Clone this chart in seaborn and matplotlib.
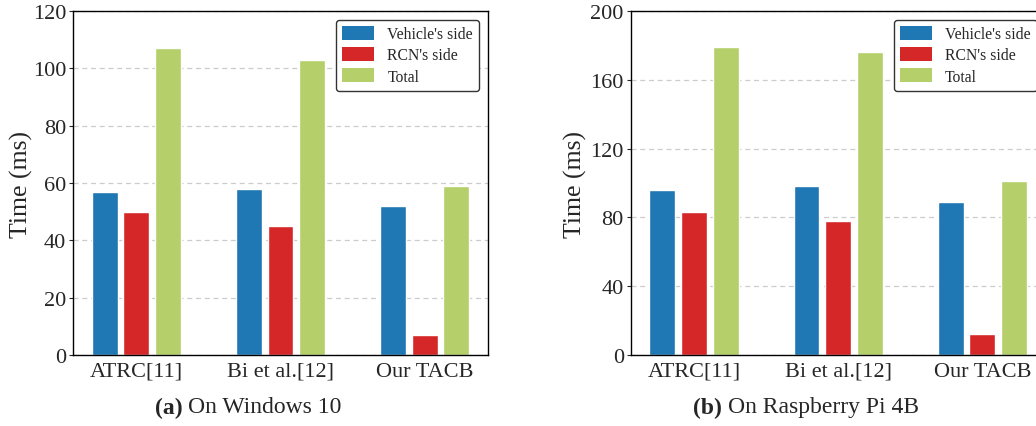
import matplotlib
matplotlib.use("Agg")
import matplotlib.pyplot as plt
import seaborn as sns
import pandas as pd

methods = ["ATRC[11]", "Bi et al.[12]", "Our TACB"]
series = ["Vehicle's side", "RCN's side", "Total"]
colors = ["#1f77b4", "#d62728", "#b5cf6b"]

win_vehicle = [57, 58, 52]
win_rcn = [50, 45, 7]
win_total = [107, 103, 59]

pi_vehicle = [96, 98, 89]
pi_rcn = [83, 78, 12]
pi_total = [179, 176, 101]

win_ticks = [0, 20, 40, 60, 80, 100, 120]
pi_ticks = [0, 40, 80, 120, 160, 200]

sns.set_style("white")
plt.rcParams['font.family'] = ['Liberation Serif', 'DejaVu Serif']


def long_df(v, r, t):
    rows = []
    for vals, s in zip([v, r, t], series):
        for m, val in zip(methods, vals):
            rows.append({"method": m, "series": s, "value": val})
    return pd.DataFrame(rows)


fig = plt.figure(figsize=(10.36, 4.27), dpi=100)
W, H = 1036, 427
ax1 = fig.add_axes([73 / W, (H - 356) / H, 415 / W, 344 / H])
ax2 = fig.add_axes([630.7 / W, (H - 356) / H, 415 / W, 344 / H])

for ax, (v, r, t), ticks in [(ax1, (win_vehicle, win_rcn, win_total), win_ticks),
                             (ax2, (pi_vehicle, pi_rcn, pi_total), pi_ticks)]:
    df = long_df(v, r, t)
    sns.barplot(data=df, x="method", y="value", hue="series", order=methods,
                hue_order=series, palette=colors, saturation=1, width=0.66,
                gap=0.18, ax=ax, errorbar=None)
    ax.set_xlim(-0.44, 2.44)
    ax.set_ylim(ticks[0], ticks[-1])
    ax.set_yticks(ticks)
    ax.set_axisbelow(True)
    ax.yaxis.grid(True, linestyle=(0, (4, 3)), color="#cccccc", linewidth=0.9)
    ax.xaxis.grid(False)
    for sp in ax.spines.values():
        sp.set_visible(True)
        sp.set_color("black")
        sp.set_linewidth(1.0)
    ax.tick_params(axis="y", left=True, length=3, width=0.8, pad=2, labelsize=16)
    ax.tick_params(axis="x", bottom=False, length=0, pad=5, labelsize=16)
    ax.set_xlabel("")
    ax.set_ylabel("Time (ms)", fontsize=18.5)
    leg = ax.legend(loc="upper right", fontsize=11.3, frameon=True, fancybox=True,
                    handlelength=2.05, handleheight=1.0, handletextpad=0.83,
                    labelspacing=0.3, borderaxespad=0.55, title=None)
    for h in leg.legend_handles:
        h.set_edgecolor("none")
    leg.get_frame().set_edgecolor("#333333")
    leg.get_frame().set_linewidth(1.0)
    leg.get_frame().set_alpha(1)

ax1.yaxis.set_label_coords(-0.096, 0.5)
ax2.yaxis.set_label_coords(-0.105, 0.5)

ycap = (H - 408) / H
fig.text(183 / W, ycap, "(a)", ha="right", va="center", fontsize=17, fontweight="bold")
fig.text(188 / W, ycap, "On Windows 10", ha="left", va="center", fontsize=17)
fig.text(722 / W, ycap, "(b)", ha="right", va="center", fontsize=17, fontweight="bold")
fig.text(728 / W, ycap, "On Raspberry Pi 4B", ha="left", va="center", fontsize=17)

fig.savefig("out.png", dpi=100)
